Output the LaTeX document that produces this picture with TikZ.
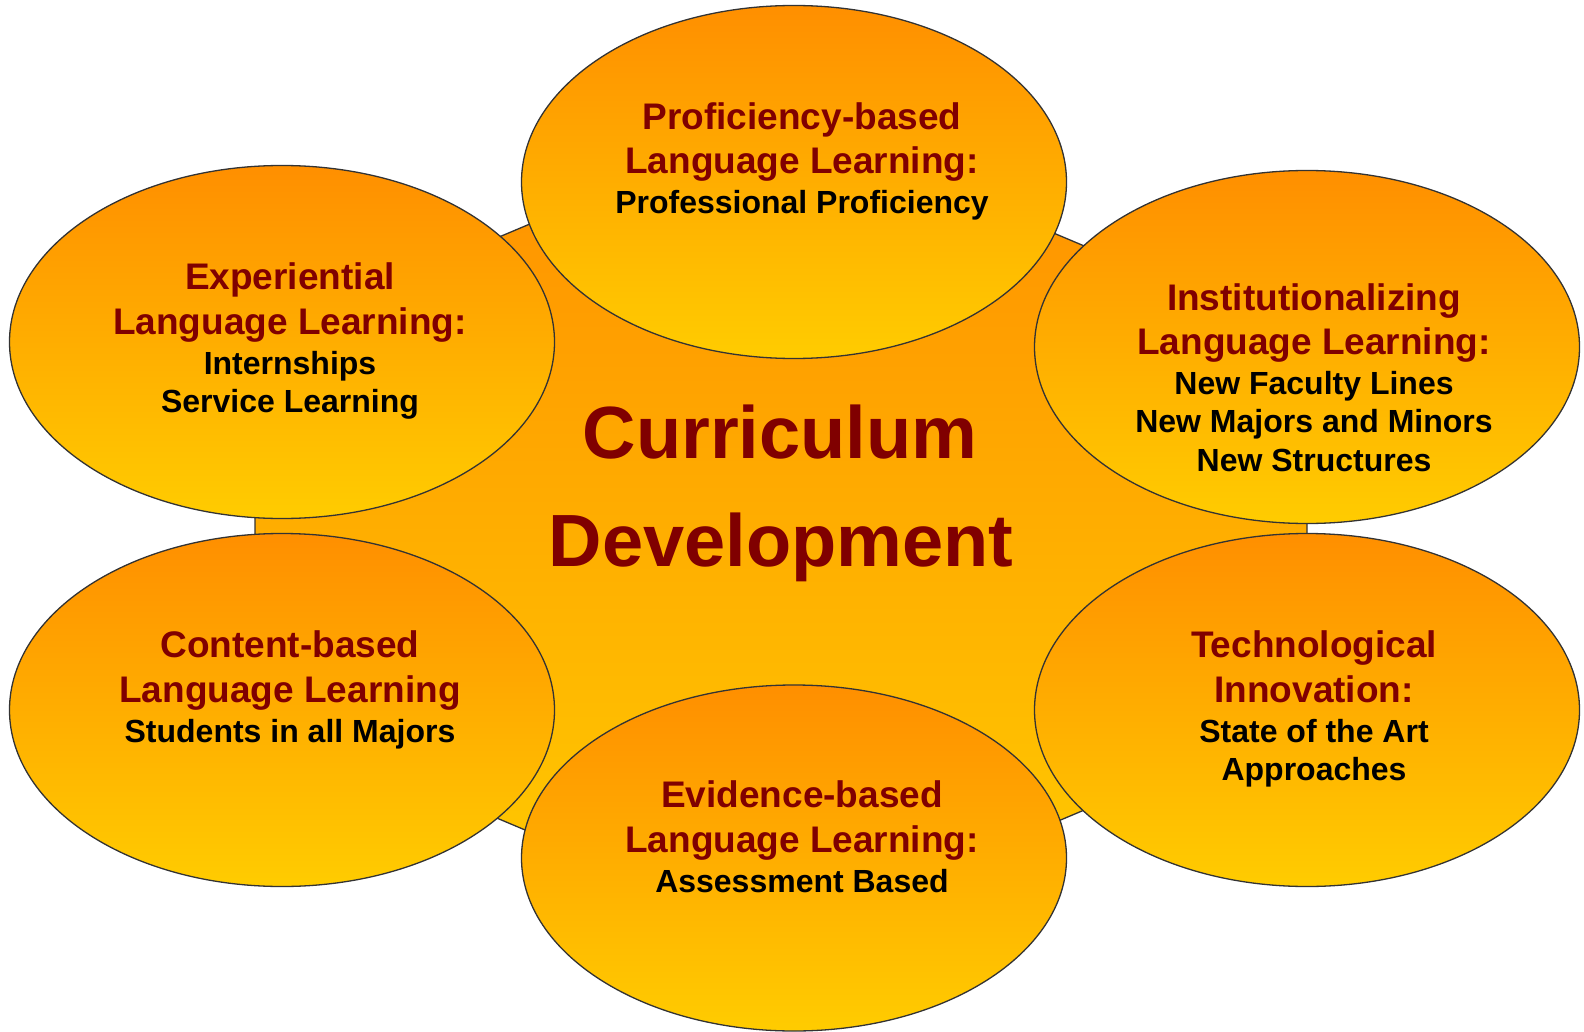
\documentclass[tikz,border=0pt]{standalone}
\usepackage{fontspec}
\setmainfont{Liberation Sans}
\usetikzlibrary{shapes.geometric}
\definecolor{ctop}{HTML}{FF8F00}
\definecolor{cbot}{HTML}{FFCC00}
\definecolor{dkred}{HTML}{800000}
\definecolor{edgec}{HTML}{333333}
\begin{document}
\begin{tikzpicture}[x=1pt,y=-1pt,
  bubble/.style={ellipse, draw=edgec, line width=1.3pt, minimum width=545pt, minimum height=353pt, inner sep=0pt, top color=ctop, bottom color=cbot},
  hd/.style={font=\fontsize{37}{44}\selectfont\bfseries, text=dkred, anchor=base, inner sep=0pt},
  sb/.style={font=\fontsize{32}{38}\selectfont\bfseries, text=black, anchor=base, inner sep=0pt},
  big/.style={font=\fontsize{74}{88}\selectfont\bfseries, text=dkred, anchor=base, inner sep=0pt}]
\useasboundingbox (0,0) rectangle (1584,1032);
% central hexagon
\coordinate (hA) at (255,340);
\coordinate (hB) at (781,118);
\coordinate (hC) at (1307,340);
\coordinate (hD) at (1307,716);
\coordinate (hE) at (781,938);
\coordinate (hF) at (255,716);
\path[draw=edgec, line width=1.3pt, top color=ctop, bottom color=cbot]
  (hA) -- (hB) -- (hC) -- (hD) -- (hE) -- (hF) -- cycle;
% bubbles
\node[bubble] (top) at (794,182) {};
\node[bubble] (ul)  at (282,342) {};
\node[bubble] (ur)  at (1307,347) {};
\node[bubble] (ll)  at (282,710) {};
\node[bubble] (lr)  at (1307,710) {};
\node[bubble, minimum height=346pt] (bot) at (794,858) {};
% centre title
\node[big] (c1) at (780,458) {Curriculum};
\node[big] (c2) at (781,566) {Development};
% top
\node[hd] (t1) at (802,130) {Proficiency-based};
\node[hd] (t2) at (802,174) {Language Learning:};
\node[sb] (t3) at (802,214) {Professional Proficiency};
% upper left
\node[hd] (u1) at (290,289) {Experiential};
\node[hd] (u2) at (290,334) {Language Learning:};
\node[sb] (u3) at (290,374) {Internships};
\node[sb] (u4) at (290,412) {Service Learning};
% upper right
\node[hd] (r1) at (1314,310) {Institutionalizing};
\node[hd] (r2) at (1314,354) {Language Learning:};
\node[sb] (r3) at (1314,394) {New Faculty Lines};
\node[sb] (r4) at (1314,432) {New Majors and Minors};
\node[sb] (r5) at (1314,471) {New Structures};
% lower left
\node[hd] (l1) at (290,657) {Content-based};
\node[hd] (l2) at (290,702) {Language Learning};
\node[sb] (l3) at (290,742) {Students in all Majors};
% lower right
\node[hd] (w1) at (1314,657) {Technological};
\node[hd] (w2) at (1314,702) {Innovation:};
\node[sb] (w3) at (1314,742) {State of the Art};
\node[sb] (w4) at (1314,780) {Approaches};
% bottom
\node[hd] (b1) at (802,807) {Evidence-based};
\node[hd] (b2) at (802,852) {Language Learning:};
\node[sb] (b3) at (802,892) {Assessment Based};
\end{tikzpicture}
\end{document}
